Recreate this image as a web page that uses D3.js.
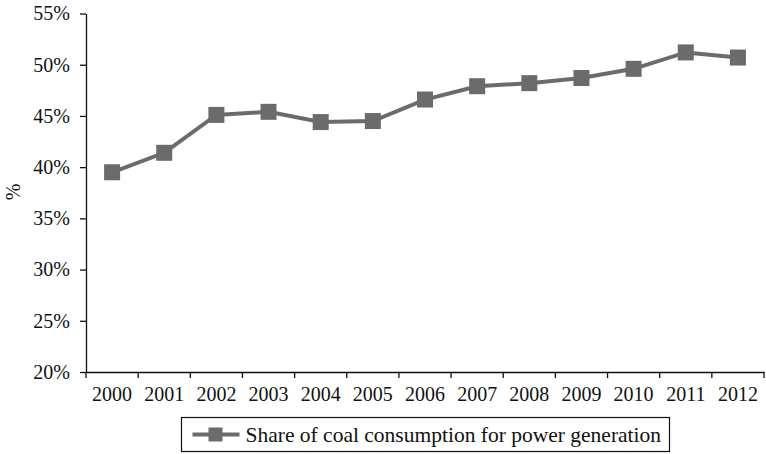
<!DOCTYPE html>
<html>
<head>
<meta charset="utf-8">
<script src="https://cdn.jsdelivr.net/npm/d3@7"></script>
<style>
  body { margin: 0; background: #fff; }
  svg { display: block; font-family: "Liberation Serif", "DejaVu Serif", serif; }
  .axis text { font-family: "Liberation Serif", "DejaVu Serif", serif; font-size: 20px; fill: #111; }
  .axis path, .axis line { stroke: #111; stroke-width: 1.3; }
</style>
</head>
<body>
<svg id="chart" width="766" height="454"></svg>
<script>
(function() {
  'use strict';

  const years = ['2000', '2001', '2002', '2003', '2004', '2005', '2006',
                 '2007', '2008', '2009', '2010', '2011', '2012'];
  const coalShare = [39.5, 41.4, 45.1, 45.4, 44.4, 44.5, 46.6,
                     47.9, 48.2, 48.7, 49.6, 51.2, 50.7];
  const yTicks = [20, 25, 30, 35, 40, 45, 50, 55];
  const seriesName = 'Share of coal consumption for power generation';

  const left = 86, right = 764, top = 13.5, bottom = 372;
  const lineColor = '#6b6b6b';

  const svg = d3.select('#chart');

  const x = d3.scaleBand()
    .domain(years)
    .range([left, right]);

  const y = d3.scaleLinear()
    .domain([20, 55])
    .range([bottom, top]);

  svg.append('g')
    .attr('class', 'axis')
    .attr('transform', `translate(${left},0)`)
    .call(d3.axisLeft(y).tickValues(yTicks).tickFormat(d => d + '%')
      .tickSize(6).tickSizeOuter(0).tickPadding(10));

  svg.append('g')
    .attr('class', 'axis')
    .attr('transform', `translate(0,${bottom})`)
    .call(d3.axisBottom(x).tickSize(0).tickPadding(15));

  // ticks sit on the band boundaries, not the centres
  svg.append('g')
    .selectAll('line')
    .data(years.concat(['end']))
    .enter()
    .append('line')
      .attr('x1', (d, i) => left + i * x.step())
      .attr('x2', (d, i) => left + i * x.step())
      .attr('y1', bottom)
      .attr('y2', bottom + 6)
      .attr('stroke', '#111')
      .attr('stroke-width', 1.3);

  svg.append('text')
    .attr('transform', 'translate(20,192) rotate(-90)')
    .attr('text-anchor', 'middle')
    .attr('font-size', 20)
    .attr('fill', '#111')
    .text('%');

  const line = d3.line()
    .x((d, i) => x(years[i]) + x.bandwidth() / 2)
    .y(d => y(d));

  svg.append('path')
    .datum(coalShare)
    .attr('d', line)
    .attr('fill', 'none')
    .attr('stroke', lineColor)
    .attr('stroke-width', 4);

  const sq = 16;
  svg.selectAll('.pt')
    .data(coalShare)
    .enter()
    .append('rect')
      .attr('class', 'pt')
      .attr('x', (d, i) => x(years[i]) + x.bandwidth() / 2 - sq / 2)
      .attr('y', d => y(d) - sq / 2)
      .attr('width', sq)
      .attr('height', sq)
      .attr('fill', lineColor);

  // legend
  const lg = svg.append('g').attr('transform', 'translate(181.5,417.5)');
  lg.append('rect')
    .attr('width', 488)
    .attr('height', 34)
    .attr('fill', '#fff')
    .attr('stroke', '#111')
    .attr('stroke-width', 1.2);
  lg.append('line')
    .attr('x1', 11).attr('x2', 58)
    .attr('y1', 17).attr('y2', 17)
    .attr('stroke', lineColor)
    .attr('stroke-width', 4);
  lg.append('rect')
    .attr('x', 27).attr('y', 10)
    .attr('width', 14).attr('height', 14)
    .attr('fill', lineColor);
  lg.append('text')
    .attr('x', 64)
    .attr('y', 24)
    .attr('font-size', 21.5)
    .attr('fill', '#111')
    .text(seriesName);
})();
</script>
</body>
</html>
